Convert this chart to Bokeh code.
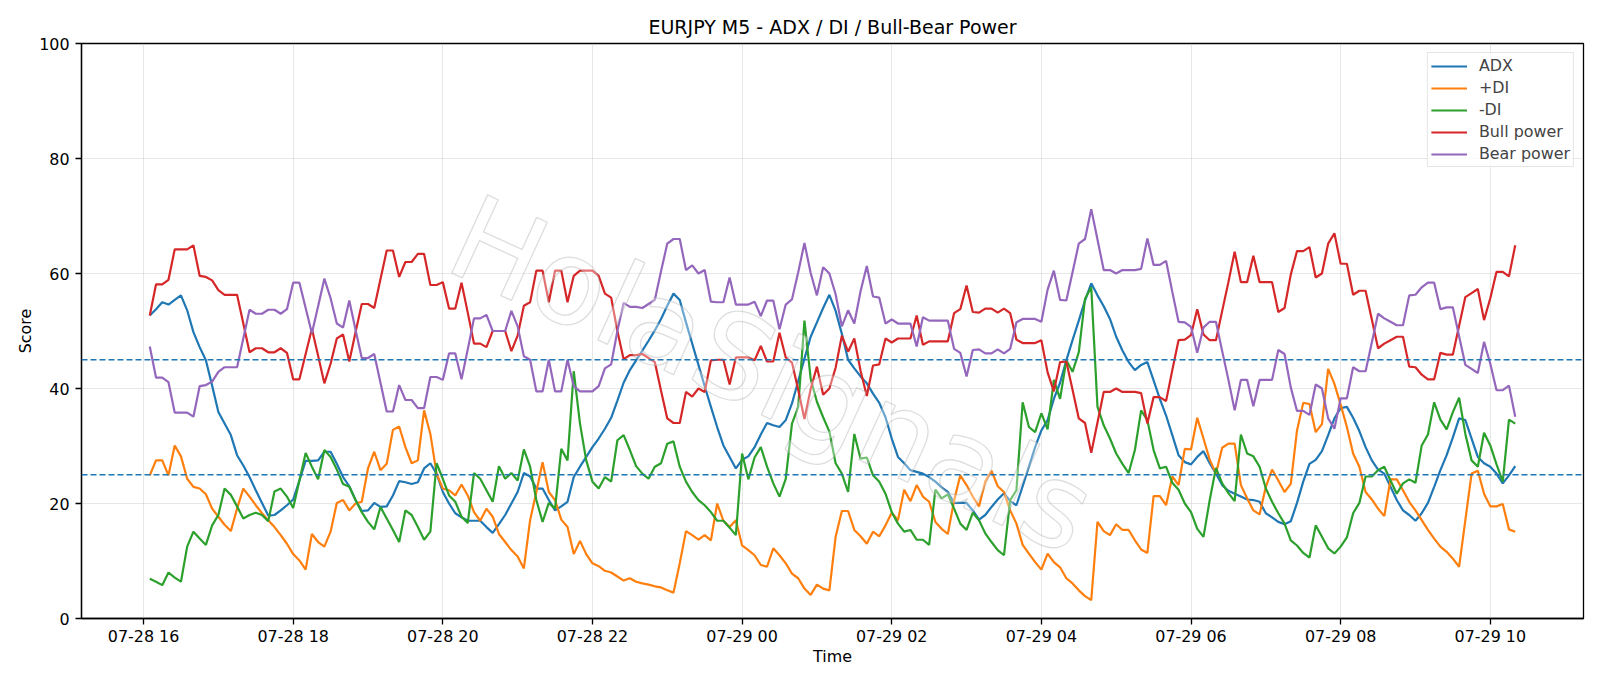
import pandas as pd
from bokeh.plotting import figure
from bokeh.models import (Range1d, FixedTicker, DatetimeTickFormatter, Span)
from bokeh.core.properties import value
from bokeh.embed import file_html
from bokeh.resources import INLINE

# 5-minute bars, EURJPY
times = pd.date_range("2025-07-28 16:05", periods=220, freq="5min")

adx = [
    52.7, 53.8, 55.0, 54.6, 55.4, 56.2, 53.6, 49.8, 47.2, 44.9, 40.5, 35.9, 33.9, 31.9, 28.4, 26.6, 24.6, 22.3, 20.1, 17.9,
    18.0, 18.8, 19.7, 20.7, 24.0, 27.4, 27.4, 27.5, 29.0, 29.0, 26.9, 24.6, 23.0, 20.6, 18.7, 18.8, 20.1,
    19.4, 19.5, 21.4, 23.9, 23.7, 23.4, 23.7, 26.1, 27.0, 25.2, 22.0, 20.0, 18.3, 17.6, 17.0, 17.0, 17.0, 15.9, 14.9, 16.4,
    18.0, 20.0, 22.0, 25.3, 24.7, 22.6, 22.6, 20.6, 18.8, 19.5, 20.3, 24.6, 26.4, 28.1, 29.8, 31.3, 33.0,
    34.9, 37.9, 41.0, 43.2, 44.9, 46.6, 48.3, 50.1, 52.1, 54.4, 56.5, 55.4, 51.5, 47.8, 44.1, 40.4, 36.8, 33.3, 30.1, 28.1,
    26.1, 27.6, 28.2, 29.8, 32.0, 34.0, 33.6, 33.3, 34.5, 37.4, 41.3, 45.2, 49.0, 51.5, 54.0, 56.3, 53.5,
    49.5, 45.0, 43.5, 42.1, 40.9, 39.1, 37.5, 35.0, 31.3, 28.1, 27.0, 25.8, 25.5, 25.2, 24.6, 23.8, 22.8, 22.0, 20.1, 20.1,
    20.1, 18.8, 17.2, 18.0, 19.4, 20.7, 21.8, 20.4, 19.7, 23.0, 26.4, 29.8, 32.7, 34.5, 38.2, 41.0,
    44.9, 48.4, 51.8, 55.3, 58.3, 56.2, 54.3, 52.1, 49.0, 46.6, 44.6, 43.2, 44.1, 44.6, 41.4, 38.2, 35.3, 31.9, 28.4, 27.2,
    26.8, 28.1, 29.1, 27.0, 25.2, 23.2, 22.2, 21.7, 21.2, 20.7, 20.6, 20.3, 18.3, 17.6, 16.8, 16.4, 16.9,
    20.1, 23.8, 26.9, 27.6, 29.1, 31.9, 34.8, 36.6, 36.8, 34.9, 32.6, 29.8, 27.5, 25.9, 25.2, 22.9, 20.6, 18.8, 18.0, 17.0,
    18.3, 20.1, 22.9, 25.8, 28.4, 31.5, 34.8, 34.5, 31.3, 28.1, 27.0, 26.4, 25.2, 23.5, 24.9, 26.5,
]

plus_di = [
    24.9, 27.5, 27.5, 24.9, 30.1, 28.2, 24.3, 22.9, 22.6, 21.6, 19.1, 17.7, 16.3, 15.2, 19.1, 22.6, 21.2, 19.7, 18.3, 17.1,
    15.9, 14.5, 13.0, 11.2, 10.1, 8.5, 14.7, 13.3, 12.5, 15.1, 20.1, 20.6, 18.8, 20.0, 20.3, 26.1, 29.0,
    25.8, 26.9, 32.8, 33.4, 29.8, 27.0, 27.5, 36.2, 32.1, 25.2, 22.6, 22.3, 21.4, 23.3, 21.4, 18.5, 17.0, 19.1, 17.7, 14.7,
    13.3, 11.9, 10.8, 8.7, 17.1, 22.0, 27.2, 22.0, 20.6, 17.2, 15.9, 11.2, 13.5, 11.2, 9.6, 9.1, 8.3,
    8.0, 7.3, 6.6, 7.0, 6.4, 6.1, 5.9, 5.6, 5.4, 4.9, 4.5, 9.6, 15.2, 14.5, 13.7, 14.5, 13.6, 20.0, 17.0, 15.9,
    17.1, 12.7, 11.9, 11.0, 9.3, 9.0, 12.2, 11.0, 9.6, 7.8, 7.0, 5.2, 4.1, 5.9, 5.2, 4.9, 14.2,
    18.7, 18.7, 15.4, 14.3, 13.0, 15.1, 14.3, 16.2, 18.4, 17.1, 22.4, 20.4, 23.2, 21.2, 20.3, 16.8, 15.6, 14.7, 20.5, 24.9,
    23.2, 21.2, 19.5, 23.8, 25.7, 23.0, 22.0, 18.8, 16.5, 12.8, 11.3, 9.8, 8.5, 11.3, 9.8, 8.9,
    7.0, 6.1, 4.9, 3.9, 3.2, 16.8, 15.2, 14.5, 16.4, 15.4, 15.4, 13.6, 12.0, 11.4, 21.3, 21.3, 19.7, 24.7, 23.2, 29.5,
    29.4, 34.9, 31.3, 27.6, 25.2, 29.7, 30.4, 30.4, 23.2, 20.9, 18.8, 18.1, 22.9, 25.9, 24.0, 22.0, 23.4,
    32.7, 37.5, 37.3, 32.4, 33.8, 43.4, 40.8, 37.2, 33.3, 28.7, 26.4, 22.0, 20.7, 19.1, 17.8, 24.2, 24.2, 22.3, 20.3, 18.8,
    17.1, 15.4, 13.9, 12.5, 11.6, 10.4, 9.0, 17.1, 25.2, 25.7, 21.7, 19.5, 19.5, 19.9, 15.5, 15.1,
]

minus_di = [
    6.9, 6.4, 5.8, 8.0, 7.1, 6.4, 12.5, 15.1, 13.9, 12.8, 16.2, 18.0, 22.6, 21.5, 19.5, 17.4, 18.0, 18.4, 18.0, 16.9,
    22.1, 22.6, 21.2, 19.2, 24.0, 28.8, 26.4, 24.2, 29.3, 28.1, 25.9, 23.4, 22.9, 20.6, 18.5, 16.8, 15.5,
    19.4, 17.4, 15.4, 13.3, 18.8, 18.0, 15.9, 13.7, 15.1, 27.0, 24.3, 21.4, 20.3, 17.7, 16.6, 25.3, 24.3, 22.3, 20.3, 26.5,
    24.3, 25.3, 24.0, 29.4, 26.4, 20.6, 16.8, 20.1, 19.1, 29.5, 27.5, 43.0, 33.9, 27.5, 23.8, 22.6, 24.6,
    23.8, 31.0, 31.9, 29.3, 26.5, 25.2, 24.3, 26.4, 27.0, 30.4, 30.8, 26.4, 23.8, 22.0, 20.6, 19.7, 18.5, 17.0, 17.0, 15.8,
    14.5, 28.7, 24.2, 28.0, 29.8, 26.4, 23.5, 21.2, 24.3, 33.9, 36.8, 51.8, 41.7, 37.7, 35.0, 32.5, 27.0,
    25.2, 22.0, 32.1, 27.8, 28.0, 24.9, 23.8, 21.7, 18.5, 16.5, 15.1, 15.4, 13.7, 13.7, 12.8, 22.4, 20.9, 21.6, 19.1, 16.5,
    15.4, 18.4, 17.1, 14.8, 13.3, 11.9, 11.0, 20.6, 22.3, 37.6, 33.3, 32.4, 35.7, 32.9, 41.5, 38.2,
    44.9, 42.9, 46.3, 55.6, 57.6, 36.8, 33.6, 31.3, 28.7, 26.9, 25.3, 29.3, 36.2, 34.5, 29.3, 26.1, 26.4, 23.6, 22.4, 20.0,
    18.5, 15.6, 14.2, 20.6, 26.2, 23.5, 21.8, 20.4, 32.0, 28.7, 28.2, 26.4, 22.6, 20.3, 18.3, 16.5, 13.6,
    12.7, 11.4, 10.6, 16.2, 14.2, 12.2, 11.3, 12.5, 14.1, 18.3, 20.1, 24.7, 24.7, 25.8, 26.4, 24.0, 21.7, 23.5, 24.2, 23.6,
    30.1, 32.0, 37.6, 34.6, 32.9, 35.9, 38.4, 32.1, 27.5, 26.4, 32.3, 30.1, 26.8, 23.8, 34.6, 33.9,
]

bull_power = [
    52.7, 58.1, 58.1, 58.9, 64.2, 64.2, 64.2, 64.9, 59.6, 59.4, 58.8, 57.1, 56.3, 56.3, 56.3, 51.3, 46.3, 47.0, 47.0, 46.3,
    46.3, 47.0, 46.2, 41.6, 41.6, 46.0, 50.4, 45.7, 40.9, 44.3, 48.7, 49.4, 44.7, 49.8, 54.7, 54.7, 54.0,
    59.0, 64.0, 64.0, 59.4, 62.0, 62.0, 63.4, 63.4, 58.0, 58.0, 58.5, 53.9, 53.9, 58.4, 53.2, 47.8, 47.8, 47.2, 50.0, 50.0,
    50.0, 46.5, 49.2, 54.4, 55.0, 60.5, 60.5, 55.0, 60.5, 60.5, 55.0, 59.6, 60.5, 60.5, 60.5, 59.6, 56.5,
    55.8, 50.0, 45.1, 45.8, 45.8, 46.0, 45.3, 44.6, 39.6, 34.8, 34.0, 34.0, 39.4, 38.6, 40.0, 39.4, 44.9, 45.0, 45.0, 40.7,
    45.4, 45.4, 45.4, 44.9, 47.4, 44.7, 44.7, 49.7, 45.4, 44.5, 39.8, 34.7, 39.9, 43.8, 38.9, 40.0, 43.6,
    49.2, 46.4, 48.7, 43.1, 38.7, 44.0, 44.2, 48.7, 48.0, 48.7, 48.7, 48.7, 52.7, 47.6, 48.2, 48.2, 48.2, 48.2, 53.1, 53.8,
    57.9, 53.3, 53.2, 53.9, 53.9, 53.2, 53.9, 53.1, 48.5, 47.9, 47.9, 47.9, 48.4, 42.8, 39.5, 44.6,
    44.7, 39.8, 34.8, 34.0, 28.8, 34.1, 39.4, 39.4, 40.0, 39.4, 39.4, 39.4, 39.2, 33.9, 38.5, 38.5, 37.8, 43.2, 48.4, 48.5,
    49.3, 53.8, 49.4, 48.4, 48.4, 53.5, 58.5, 63.8, 58.5, 58.5, 63.1, 58.5, 58.5, 58.5, 53.3, 54.0, 59.8,
    63.9, 63.9, 64.6, 59.3, 60.0, 65.2, 67.0, 61.7, 61.7, 56.3, 57.0, 57.0, 52.0, 47.0, 47.8, 48.4, 49.0, 49.0, 43.8, 43.7,
    42.4, 41.6, 41.6, 46.2, 45.9, 45.9, 50.9, 55.9, 56.6, 57.3, 51.9, 55.7, 60.3, 60.3, 59.5, 64.9,
]

bear_power = [
    47.3, 41.9, 41.9, 41.1, 35.8, 35.8, 35.8, 35.1, 40.4, 40.6, 41.2, 42.9, 43.7, 43.7, 43.7, 48.7, 53.7, 53.0, 53.0, 53.7,
    53.7, 53.0, 53.8, 58.4, 58.4, 54.0, 49.6, 54.3, 59.1, 55.7, 51.3, 50.6, 55.3, 50.2, 45.3, 45.3, 46.0,
    41.0, 36.0, 36.0, 40.6, 38.0, 38.0, 36.6, 36.6, 42.0, 42.0, 41.5, 46.1, 46.1, 41.6, 46.8, 52.2, 52.2, 52.8, 50.0, 50.0,
    50.0, 53.5, 50.8, 45.6, 45.0, 39.5, 39.5, 45.0, 39.5, 39.5, 45.0, 40.4, 39.5, 39.5, 39.5, 40.4, 43.5,
    44.2, 50.0, 54.9, 54.2, 54.2, 54.0, 54.7, 55.4, 60.4, 65.2, 66.0, 66.0, 60.6, 61.4, 60.0, 60.6, 55.1, 55.0, 55.0, 59.3,
    54.6, 54.6, 54.6, 55.1, 52.6, 55.3, 55.3, 50.3, 54.6, 55.5, 60.2, 65.3, 60.1, 56.2, 61.1, 60.0, 56.4,
    50.8, 53.6, 51.3, 56.9, 61.3, 56.0, 55.8, 51.3, 52.0, 51.3, 51.3, 51.3, 47.3, 52.4, 51.8, 51.8, 51.8, 51.8, 46.9, 46.2,
    42.1, 46.7, 46.8, 46.1, 46.1, 46.8, 46.1, 46.9, 51.5, 52.1, 52.1, 52.1, 51.6, 57.2, 60.5, 55.4,
    55.3, 60.2, 65.2, 66.0, 71.2, 65.9, 60.6, 60.6, 60.0, 60.6, 60.6, 60.6, 60.8, 66.1, 61.5, 61.5, 62.2, 56.8, 51.6, 51.5,
    50.7, 46.2, 50.6, 51.6, 51.6, 46.5, 41.5, 36.2, 41.5, 41.5, 36.9, 41.5, 41.5, 41.5, 46.7, 46.0, 40.2,
    36.1, 36.1, 35.4, 40.7, 40.0, 34.8, 33.0, 38.3, 38.3, 43.7, 43.0, 43.0, 48.0, 53.0, 52.2, 51.6, 51.0, 51.0, 56.2, 56.3,
    57.6, 58.4, 58.4, 53.8, 54.1, 54.1, 49.1, 44.1, 43.4, 42.7, 48.1, 44.3, 39.7, 39.7, 40.5, 35.1,
]

series = [
    ("ADX", adx, "#1f77b4"),
    ("+DI", plus_di, "#ff7f0e"),
    ("-DI", minus_di, "#2ca02c"),
    ("Bull power", bull_power, "#d62728"),
    ("Bear power", bear_power, "#9467bd"),
]
levels = [45, 25]
y_ticks = [0, 20, 40, 60, 80, 100]
x_tick_times = pd.date_range("2025-07-28 16:00", "2025-07-29 10:00", freq="2h")

FONT = "DejaVu Sans"

span = times[-1] - times[0]
x_start = times[0] - 0.05 * span
x_end = times[-1] + 0.05 * span

p = figure(
    width=1600, height=686,
    x_axis_type="datetime",
    x_range=Range1d(x_start, x_end),
    y_range=Range1d(0, 100),
    output_backend="svg",
    toolbar_location=None,
    min_border_left=81, min_border_right=17,
    min_border_top=43, min_border_bottom=68,
    title="EURJPY M5 - ADX / DI / Bull-Bear Power",
)
p.background_fill_color = "white"
p.border_fill_color = "white"
p.outline_line_color = "black"
p.outline_line_width = 1.3

p.title.align = "center"
p.title.text_font = FONT
p.title.text_font_size = "19px"
p.title.text_font_style = "normal"
p.title.text_color = "black"
p.title.standoff = 11

for name, vals, color in series:
    p.line(times, vals, line_color=color, line_width=2.2, legend_label=name)

for lv in levels:
    p.add_layout(Span(location=lv, dimension="width", line_color="#1f77b4",
                      line_dash="6 3", line_width=1.5))

# watermark, drawn over the lines
wm = p.text(x=[pd.Timestamp("2025-07-29 00:24")], y=[42.4], text=["HolaSignals"],
            angle=-0.43, text_font=value(FONT), text_font_size="118px",
            text_color="white", text_alpha=0.35,
            text_align="center", text_baseline="middle")
try:
    wm.glyph.text_outline_color = "#a0a0a0"
except (AttributeError, ValueError):
    wm.glyph.text_color = "#a0a0a0"
    wm.glyph.text_alpha = 0.3

for ax in (p.xaxis, p.yaxis):
    ax.axis_line_color = "black"
    ax.axis_line_width = 1.3
    ax.major_tick_line_color = "black"
    ax.major_tick_line_width = 1.3
    ax.major_tick_out = 6
    ax.major_tick_in = 0
    ax.minor_tick_line_color = None
    ax.major_label_text_font = FONT
    ax.major_label_text_font_size = "15.9px"
    ax.major_label_text_color = "black"
    ax.axis_label_text_font = FONT
    ax.axis_label_text_font_size = "15.9px"
    ax.axis_label_text_font_style = "normal"
    ax.axis_label_text_color = "black"

p.xaxis.ticker = FixedTicker(ticks=[t.value // 10**6 for t in x_tick_times])
p.xaxis.formatter = DatetimeTickFormatter(
    hours="%m-%d %H", hourmin="%m-%d %H", days="%m-%d %H",
    minutes="%m-%d %H", minsec="%m-%d %H", months="%m-%d %H")
p.xaxis.axis_label = "Time"
p.xaxis.major_label_standoff = 2
p.xaxis.axis_label_standoff = -2

p.yaxis.ticker = FixedTicker(ticks=y_ticks)
p.yaxis.axis_label = "Score"
p.yaxis.major_label_standoff = 6
p.yaxis.axis_label_standoff = 1

p.xgrid.grid_line_color = "#b0b0b0"
p.xgrid.grid_line_alpha = 0.3
p.ygrid.grid_line_color = "#b0b0b0"
p.ygrid.grid_line_alpha = 0.3

p.legend.location = "top_right"
p.legend.margin = 9
p.legend.padding = 3
p.legend.spacing = 3
p.legend.glyph_width = 36
p.legend.glyph_height = 16
p.legend.label_height = 16
p.legend.label_standoff = 12
p.legend.label_text_font = FONT
p.legend.label_text_font_size = "15.9px"
p.legend.border_line_color = "#cccccc"
p.legend.border_line_width = 1
p.legend.background_fill_alpha = 0.8

open("out.html", "w").write(file_html(p, INLINE))
